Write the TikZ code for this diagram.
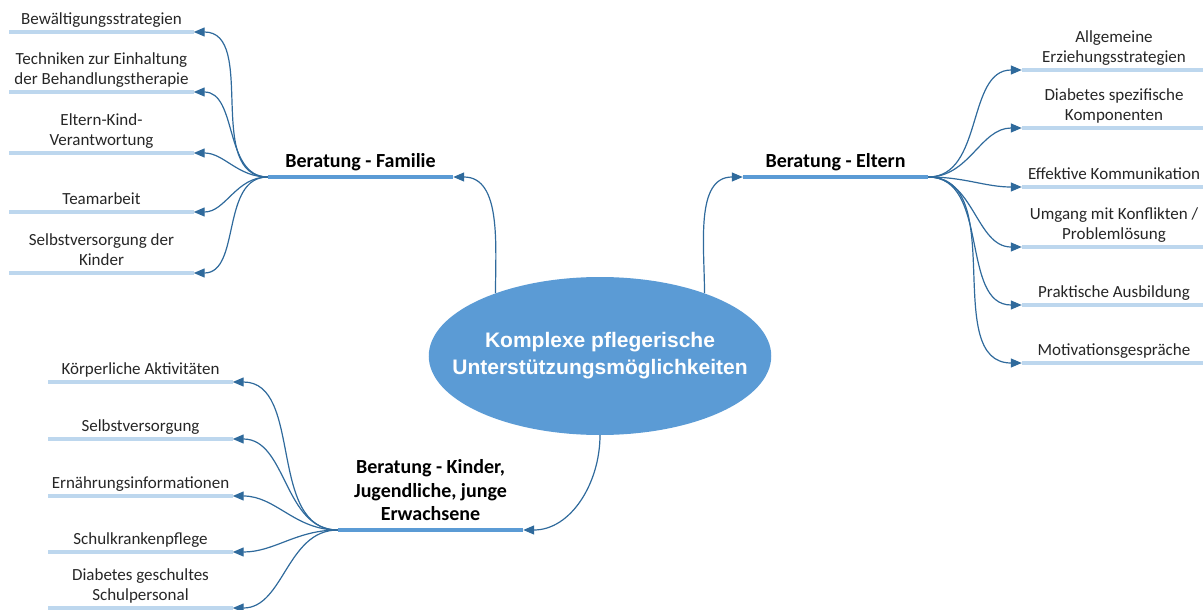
\documentclass[tikz,border=0pt]{standalone}
\usepackage{fontspec}
\setmainfont{Carlito}
\newfontfamily\corefont{Liberation Sans}
\usetikzlibrary{arrows.meta,shapes.geometric,positioning}
\definecolor{midblue}{HTML}{5B9BD5}
\definecolor{paleblue}{HTML}{BDD7EE}
\definecolor{linkblue}{HTML}{2F6A9C}
\tikzstyle{core} = [ellipse, fill=midblue, minimum height=158pt,
    inner xsep=-26.5pt, inner ysep=0pt, text=white, align=center,
    font=\corefont\bfseries\fontsize{21}{27}\selectfont]
\tikzstyle{branchline} = [draw=midblue, line width=4.5pt]
\tikzstyle{leafline} = [draw=paleblue, line width=4pt]
\tikzstyle{branch} = [anchor=south, minimum width=185pt, inner xsep=0pt, inner ysep=4pt,
    text depth=5pt, align=center, font=\bfseries\fontsize{20}{23.5}\selectfont,
    append after command={(\tikzlastnode.south west) edge[branchline] (\tikzlastnode.south east)}]
\tikzstyle{leaf} = [anchor=south, minimum width=184pt, inner xsep=0pt, inner ysep=3pt,
    text depth=4pt, align=center, text=black!85, font=\fontsize{17}{20}\selectfont,
    append after command={(\tikzlastnode.south west) edge[leafline] (\tikzlastnode.south east)}]
\tikzstyle{link} = [draw=linkblue, line width=1.2pt, ->]

\begin{document}
\begin{tikzpicture}[x=1pt, y=1pt, >={Triangle[length=11pt,width=9pt]}]
    \useasboundingbox (0,0) rectangle (1203,-610);
    % centre and the three branches
    \node [core] (core) at (600,-356) {Komplexe pflegerische\\Unterst\"utzungsm\"oglichkeiten};
    \node [branch] (fam) at (360.5,-177) {Beratung - Familie};
    \node [branch] (elt) at (835.5,-177) {Beratung - Eltern};
    \node [branch] (kid) at (430.5,-530) {Beratung - Kinder,\\Jugendliche, junge\\Erwachsene};
    % leaves of Familie
    \node [leaf] (f1) at (101.5,-32) {Bew\"altigungsstrategien};
    \node [leaf] (f2) at (101.5,-92) {Techniken zur Einhaltung\\der Behandlungstherapie};
    \node [leaf] (f3) at (101.5,-153) {Eltern-Kind-\\Verantwortung};
    \node [leaf] (f4) at (101.5,-212) {Teamarbeit};
    \node [leaf] (f5) at (101.5,-273) {Selbstversorgung der\\Kinder};
    % leaves of Eltern
    \node [leaf] (e1) at (1114,-70) {Allgemeine\\Erziehungsstrategien};
    \node [leaf] (e2) at (1114,-128) {Diabetes spezifische\\Komponenten};
    \node [leaf] (e3) at (1114,-187) {Effektive Kommunikation};
    \node [leaf] (e4) at (1114,-247) {Umgang mit Konflikten /\\Probleml\"osung};
    \node [leaf] (e5) at (1114,-305) {Praktische Ausbildung};
    \node [leaf] (e6) at (1114,-363) {Motivationsgespr\"ache};
    % leaves of Kinder
    \node [leaf] (k1) at (140.5,-382) {K\"orperliche Aktivit\"aten};
    \node [leaf] (k2) at (140.5,-439) {Selbstversorgung};
    \node [leaf] (k3) at (140.5,-496) {Ern\"ahrungsinformationen};
    \node [leaf] (k4) at (140.5,-552) {Schulkrankenpflege};
    \node [leaf] (k5) at (140.5,-608) {Diabetes geschultes\\Schulpersonal};
    % connectors from the centre
    \draw [link] (core.149) to[out=90,in=0] (fam.south east);
    \draw [link] (core.31) to[out=90,in=180] (elt.south west);
    \draw [link] (core.south) to[out=-90,in=0] (kid.south east);
    % connectors to the leaves
    \draw [link] (fam.south west) to[out=180,in=0] (f1.south east);
    \draw [link] (fam.south west) to[out=180,in=0] (f2.south east);
    \draw [link] (fam.south west) to[out=180,in=0] (f3.south east);
    \draw [link] (fam.south west) to[out=180,in=0] (f4.south east);
    \draw [link] (fam.south west) to[out=180,in=0] (f5.south east);
    \draw [link] (elt.south east) to[out=0,in=180] (e1.south west);
    \draw [link] (elt.south east) to[out=0,in=180] (e2.south west);
    \draw [link] (elt.south east) to[out=0,in=180] (e3.south west);
    \draw [link] (elt.south east) to[out=0,in=180] (e4.south west);
    \draw [link] (elt.south east) to[out=0,in=180] (e5.south west);
    \draw [link] (elt.south east) to[out=0,in=180] (e6.south west);
    \draw [link] (kid.south west) to[out=180,in=0] (k1.south east);
    \draw [link] (kid.south west) to[out=180,in=0] (k2.south east);
    \draw [link] (kid.south west) to[out=180,in=0] (k3.south east);
    \draw [link] (kid.south west) to[out=180,in=0] (k4.south east);
    \draw [link] (kid.south west) to[out=180,in=0] (k5.south east);
\end{tikzpicture}
\end{document}
